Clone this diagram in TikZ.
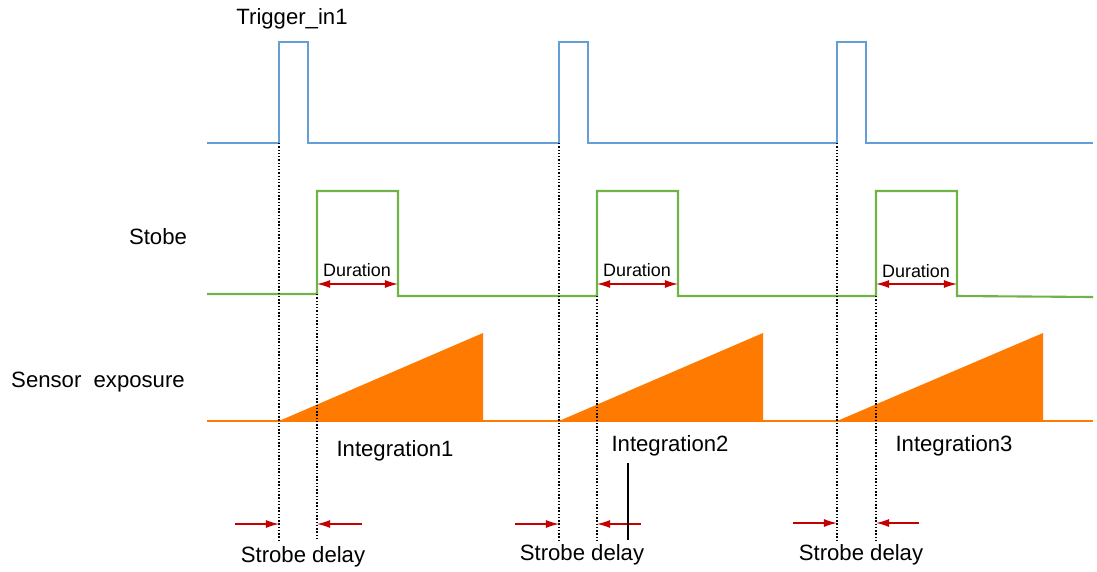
\documentclass[tikz,border=0pt]{standalone}
\usepackage{fontspec}
\setmainfont{Liberation Sans}
\usetikzlibrary{arrows.meta,positioning}
\definecolor{TrigBlue}{RGB}{100,158,214}
\definecolor{StrobeGreen}{RGB}{112,180,72}
\definecolor{ExpOrange}{RGB}{255,122,0}
\definecolor{DelayRed}{RGB}{196,0,0}

\begin{document}
\begin{tikzpicture}[x=0.02cm,y=-0.02cm,>={Latex[length=7.5pt,width=4.6pt]}]
\tikzstyle{lbl}=[inner sep=0pt,font=\fontsize{12.6}{14}\selectfont]
\tikzstyle{small}=[inner sep=0pt,font=\fontsize{10.2}{12}\selectfont]
\tikzstyle{trig}=[TrigBlue,line width=1.2pt]
\tikzstyle{strobe}=[StrobeGreen,line width=1.2pt]
\tikzstyle{expo}=[ExpOrange,line width=1.2pt]
\tikzstyle{guide}=[densely dotted,line width=0.85pt]
\tikzstyle{delay}=[->,DelayRed,line width=0.7pt]
\useasboundingbox (0,0) rectangle (1097,571);

% waveforms
\draw[trig] (207,143) -- (279,143) -- (279,42) -- (308,42) -- (308,143) -- (559,143) -- (559,42) -- (588,42) -- (588,143)
  -- (837,143) -- (837,42) -- (866,42) -- (866,143) -- (1093,143);
\draw[strobe] (207,294) -- (317,294) -- (317,191) -- (398,191) -- (398,296) -- (597,296) -- (597,191) -- (678,191) -- (678,296)
  -- (876,296) -- (876,191) -- (957,191) -- (957,296) -- (1093,297);
\fill[ExpOrange] (279,421) -- (483,333) -- (483,421) -- cycle;
\fill[ExpOrange] (559,421) -- (763,333) -- (763,421) -- cycle;
\fill[ExpOrange] (837,421) -- (1043,333) -- (1043,421) -- cycle;
\draw[expo] (207,421) -- (1093,421);

% edges
\coordinate (t1) at (279,143); \coordinate (t1b) at (279,540);
\coordinate (s1) at (317,294); \coordinate (s1b) at (317,540);
\coordinate (t2) at (559,143); \coordinate (t2b) at (559,540);
\coordinate (s2) at (597,296); \coordinate (s2b) at (597,540);
\coordinate (t3) at (837,143); \coordinate (t3b) at (837,540);
\coordinate (s3) at (876,296); \coordinate (s3b) at (876,540);
\draw[guide] (t1) -- (t1b);
\draw[guide] (s1) -- (s1b);
\draw[guide] (t2) -- (t2b);
\draw[guide] (s2) -- (s2b);
\draw[guide] (t3) -- (t3b);
\draw[guide] (s3) -- (s3b);

% duration
\coordinate (d1a) at (317,284); \coordinate (d1b) at (398,284);
\coordinate (d2a) at (597,284); \coordinate (d2b) at (678,284);
\coordinate (d3a) at (876,284); \coordinate (d3b) at (957,284);
\draw[delay,<->] (d1a) -- (d1b);
\draw[delay,<->] (d2a) -- (d2b);
\draw[delay,<->] (d3a) -- (d3b);
\node[small] (dur1) at (357,270) {Duration};
\node[small] (dur2) at (637,270) {Duration};
\node[small] (dur3) at (916,271) {Duration};

% strobe delay
\coordinate (a1) at (235,524); \coordinate (a1e) at (279,524);
\coordinate (b1) at (362,524); \coordinate (b1e) at (317,524);
\coordinate (a2) at (515,524); \coordinate (a2e) at (559,524);
\coordinate (b2) at (641,524); \coordinate (b2e) at (597,524);
\coordinate (a3) at (793,523); \coordinate (a3e) at (837,523);
\coordinate (b3) at (919,523); \coordinate (b3e) at (876,523);
\draw[delay] (a1) -- (a1e);
\draw[delay] (b1) -- (b1e);
\draw[delay] (a2) -- (a2e);
\draw[delay] (b2) -- (b2e);
\draw[delay] (a3) -- (a3e);
\draw[delay] (b3) -- (b3e);

% labels
\node[lbl] (trigger) at (292,19) {Trigger\_in1};
\node[lbl] (stobe) at (158,237) {Stobe};
\node[lbl] (sensor) at (98,382) {Sensor\ \ exposure};
\node[lbl] (int1) at (395,451) {Integration1};
\node[lbl] (int2) at (670,446) {Integration2};
\node[lbl] (int3) at (954,446) {Integration3};
\node[lbl] (sd1) at (303,557) {Strobe delay};
\node[lbl] (sd2) at (582,555) {Strobe delay};
\node[lbl] (sd3) at (861,555) {Strobe delay};
\coordinate (p2a) at (628,463);
\coordinate (p2b) at (628,540);
\draw[line width=0.9pt] (p2a) -- (p2b);
\end{tikzpicture}
\end{document}
